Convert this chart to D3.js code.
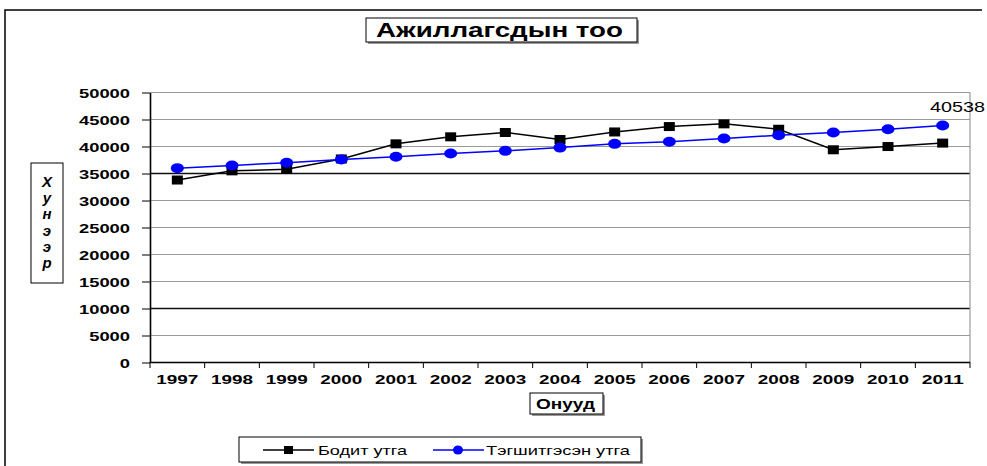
<!DOCTYPE html>
<html>
<head>
<meta charset="utf-8">
<script src="https://cdn.jsdelivr.net/npm/d3@7"></script>
<style>
  body { margin: 0; background: #fff; }
  svg text { font-family: "Liberation Sans", Arial, sans-serif; }
</style>
</head>
<body>
<svg width="987" height="466"></svg>
<script>
var years = ["1997","1998","1999","2000","2001","2002","2003","2004","2005","2006","2007","2008","2009","2010","2011"];
var actual = [33700,35400,35700,37600,40400,41700,42500,41200,42600,43600,44100,43100,39300,39900,40538];
var fitted = [35900,36400,36900,37500,38000,38600,39100,39700,40400,40800,41400,42000,42500,43100,43800];
var yTicks = [0,5000,10000,15000,20000,25000,30000,35000,40000,45000,50000];
var darkLines = [10000,35000];
var yLetters = ["Х","у","н","э","э","р"];

var svg = d3.select("svg"),
    plotLeft = 150, plotRight = 970, plotTop = 92, plotBottom = 362;

var x = d3.scaleBand().domain(years).range([plotLeft, plotRight]),
    xEdge = d3.scaleLinear().domain([0, years.length]).range([plotLeft, plotRight]),
    y = d3.scaleLinear().domain([0, 50000]).range([plotBottom, plotTop]);

// outer frame (cut at the right and bottom)
svg.append("path")
    .attr("d", "M5,466V10H982")
    .attr("fill", "none")
    .attr("stroke", "#000")
    .attr("stroke-width", 1.5);

// title
svg.append("rect").attr("x", 368).attr("y", 20).attr("width", 271).attr("height", 24).attr("fill", "#999");
svg.append("rect").attr("x", 366).attr("y", 18).attr("width", 271).attr("height", 24)
    .attr("fill", "#fff").attr("stroke", "#000");
svg.append("text")
    .attr("x", 376).attr("y", 37)
    .attr("textLength", 247).attr("lengthAdjust", "spacingAndGlyphs")
    .style("font-size", "20px").style("font-weight", "bold")
    .text("Ажиллагсдын тоо");

// grid
svg.append("g").selectAll("line")
    .data(yTicks.filter(function(d){ return d > 0; }))
    .enter().append("line")
    .attr("x1", plotLeft).attr("x2", plotRight)
    .attr("y1", function(d){ return y(d) + 0.5; }).attr("y2", function(d){ return y(d) + 0.5; })
    .attr("stroke", function(d){ return darkLines.indexOf(d) >= 0 ? "#111" : "#9a9a9a"; })
    .attr("stroke-width", function(d){ return darkLines.indexOf(d) >= 0 ? 1.3 : 1.2; });
svg.append("line")
    .attr("x1", plotRight).attr("x2", plotRight).attr("y1", plotTop).attr("y2", plotBottom)
    .attr("stroke", "#9a9a9a").attr("stroke-width", 1.2);

// y axis
var yAxis = svg.append("g")
    .attr("transform", "translate(" + plotLeft + ",0.5)")
    .call(d3.axisLeft(y).tickValues(yTicks).tickFormat(d3.format("d"))
      .tickSize(8).tickPadding(12).tickSizeOuter(0));
yAxis.select(".domain").attr("stroke", "#000").attr("stroke-width", 1.6);
yAxis.selectAll("text")
    .attr("dy", "0.36em")
    .attr("textLength", function(d){ return String(d).length * 10.2; })
    .attr("lengthAdjust", "spacingAndGlyphs")
    .style("font-size", "13px").style("font-weight", "bold")
    .style("font-family", "Liberation Sans, Arial, sans-serif")
    .attr("fill", "#000");

// x axis
svg.append("line")
    .attr("x1", plotLeft).attr("x2", plotRight).attr("y1", plotBottom + 0.5).attr("y2", plotBottom + 0.5)
    .attr("stroke", "#000").attr("stroke-width", 1.6);
svg.append("g").selectAll("line")
    .data(d3.range(years.length + 1))
    .enter().append("line")
    .attr("x1", function(d){ return xEdge(d); }).attr("x2", function(d){ return xEdge(d); })
    .attr("y1", plotBottom).attr("y2", plotBottom + 6)
    .attr("stroke", "#000");
svg.append("g").selectAll("text")
    .data(years)
    .enter().append("text")
    .attr("x", function(d){ return x(d) + x.bandwidth() / 2; })
    .attr("y", 384)
    .attr("text-anchor", "middle")
    .attr("textLength", 42).attr("lengthAdjust", "spacingAndGlyphs")
    .style("font-size", "13px").style("font-weight", "bold")
    .text(function(d){ return d; });

// y title box
svg.append("rect").attr("x", 31).attr("y", 163).attr("width", 32).attr("height", 120)
    .attr("fill", "#fff").attr("stroke", "#000");
svg.append("g").selectAll("text")
    .data(yLetters)
    .enter().append("text")
    .attr("x", 47)
    .attr("y", function(d, i){ return 187 + i * 16.2; })
    .attr("text-anchor", "middle")
    .style("font-size", "15px").style("font-style", "italic").style("font-weight", "bold")
    .text(function(d){ return d; });

// x title box
svg.append("rect").attr("x", 532).attr("y", 395).attr("width", 73).attr("height", 21).attr("fill", "#999");
svg.append("rect").attr("x", 530).attr("y", 393).attr("width", 73).attr("height", 21)
    .attr("fill", "#fff").attr("stroke", "#000");
svg.append("text")
    .attr("x", 536).attr("y", 409)
    .attr("textLength", 59).attr("lengthAdjust", "spacingAndGlyphs")
    .style("font-size", "14px").style("font-weight", "bold")
    .text("Онууд");

// series
var line = d3.line()
    .x(function(d, i){ return x(years[i]) + x.bandwidth() / 2; })
    .y(function(d){ return y(d); });

svg.append("path").datum(actual)
    .attr("d", line).attr("fill", "none").attr("stroke", "#000").attr("stroke-width", 1.5);
svg.append("g").selectAll("rect")
    .data(actual)
    .enter().append("rect")
    .attr("x", function(d, i){ return x(years[i]) + x.bandwidth() / 2 - 5.5; })
    .attr("y", function(d){ return y(d) - 4.5; })
    .attr("width", 11).attr("height", 9)
    .attr("fill", "#000");

svg.append("path").datum(fitted)
    .attr("d", line).attr("fill", "none").attr("stroke", "#0000ff").attr("stroke-width", 1.5);
svg.append("g").selectAll("ellipse")
    .data(fitted)
    .enter().append("ellipse")
    .attr("cx", function(d, i){ return x(years[i]) + x.bandwidth() / 2; })
    .attr("cy", function(d){ return y(d); })
    .attr("rx", 6.5).attr("ry", 5)
    .attr("fill", "#0000ff");

// last value label
svg.append("text")
    .attr("x", 930).attr("y", 112)
    .attr("textLength", 55).attr("lengthAdjust", "spacingAndGlyphs")
    .style("font-size", "14px")
    .text(actual[actual.length - 1]);

// legend
svg.append("rect").attr("x", 241).attr("y", 439).attr("width", 402).attr("height", 25).attr("fill", "#999");
svg.append("rect").attr("x", 239).attr("y", 437).attr("width", 402).attr("height", 25)
    .attr("fill", "#fff").attr("stroke", "#000");
var legend = [
  {name: "Бодит утга", color: "#000", x: 263, tx: 318, tw: 89, shape: "square"},
  {name: "Тэгшитгэсэн утга", color: "#0000ff", x: 433, tx: 486, tw: 144, shape: "circle"}
];
var lg = svg.append("g").selectAll("g").data(legend).enter().append("g");
lg.append("line")
    .attr("x1", function(d){ return d.x; }).attr("x2", function(d){ return d.x + 51; })
    .attr("y1", 450).attr("y2", 450)
    .attr("stroke", function(d){ return d.color; }).attr("stroke-width", 1.5);
lg.filter(function(d){ return d.shape == "square"; }).append("rect")
    .attr("x", function(d){ return d.x + 21; }).attr("y", 446)
    .attr("width", 9).attr("height", 8).attr("fill", "#000");
lg.filter(function(d){ return d.shape == "circle"; }).append("ellipse")
    .attr("cx", function(d){ return d.x + 25; }).attr("cy", 450)
    .attr("rx", 5).attr("ry", 4.5).attr("fill", "#0000ff");
lg.append("text")
    .attr("x", function(d){ return d.tx; }).attr("y", 455)
    .attr("textLength", function(d){ return d.tw; }).attr("lengthAdjust", "spacingAndGlyphs")
    .style("font-size", "13px")
    .text(function(d){ return d.name; });
</script>
</body>
</html>
